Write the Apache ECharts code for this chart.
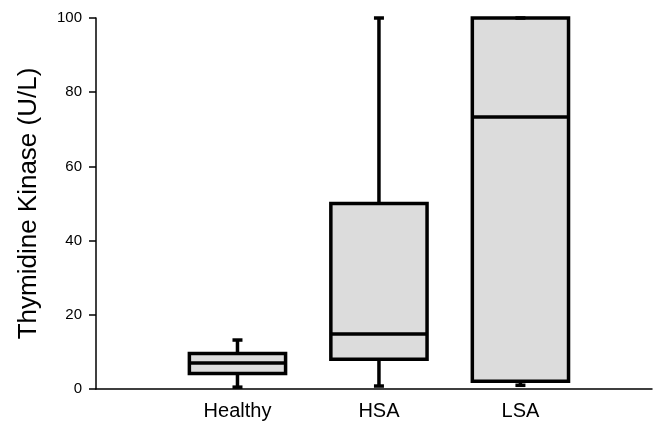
<!DOCTYPE html>
<html><head><meta charset="utf-8">
<script src="https://cdn.jsdelivr.net/npm/echarts@6/dist/echarts.min.js"></script>
<style>html,body{margin:0;padding:0;background:#fff}#c{width:655px;height:424px}</style>
</head><body><div id="c"></div>
<script>
const categories = ['Healthy', 'HSA', 'LSA'];
const whiskerLow = [0.5, 0.8, 1.0];
const q1 = [4.2, 8.0, 2.1];
const median = [7.0, 14.8, 73.3];
const q3 = [9.6, 50.0, 100];
const whiskerHigh = [13.2, 100, 100];
const yTicks = [0, 20, 40, 60, 80, 100];

const data = categories.map((c, i) => [i + 1, whiskerLow[i], q1[i], median[i], q3[i], whiskerHigh[i]]);
const FONT = '"Liberation Sans", Arial, sans-serif';
const LW = 3.5;

function renderItem(params, api) {
  const x = api.value(0);
  const halfW = 0.34;
  const pLo = api.coord([x, api.value(1)]);
  const pQ1 = api.coord([x, api.value(2)]);
  const pMed = api.coord([x, api.value(3)]);
  const pQ3 = api.coord([x, api.value(4)]);
  const pHi = api.coord([x, api.value(5)]);
  const left = api.coord([x - halfW, 0])[0];
  const right = api.coord([x + halfW, 0])[0];
  const cx = pLo[0];
  const capHalf = 5;
  const st = { stroke: '#000', lineWidth: LW };
  return {
    type: 'group',
    children: [
      { type: 'line', shape: { x1: cx, y1: pLo[1], x2: cx, y2: pQ1[1] }, style: st },
      { type: 'line', shape: { x1: cx, y1: pQ3[1], x2: cx, y2: pHi[1] }, style: st },
      { type: 'rect', shape: { x: left, y: pQ3[1], width: right - left, height: pQ1[1] - pQ3[1] },
        style: { fill: '#dcdcdc', stroke: '#000', lineWidth: LW } },
      { type: 'line', shape: { x1: left, y1: pMed[1], x2: right, y2: pMed[1] }, style: st },
      { type: 'line', shape: { x1: cx - capHalf, y1: pLo[1], x2: cx + capHalf, y2: pLo[1] }, style: st },
      { type: 'line', shape: { x1: cx - capHalf, y1: pHi[1], x2: cx + capHalf, y2: pHi[1] }, style: st }
    ]
  };
}

const chart = echarts.init(document.getElementById('c'), null, { renderer: 'canvas' });
chart.setOption({
  animation: false,
  backgroundColor: '#fff',
  grid: { left: 96, right: 1, top: 18, bottom: 35, containLabel: false },
  xAxis: {
    type: 'value', min: 0, max: 3.93, interval: 1,
    axisLine: { show: true, lineStyle: { color: '#000', width: 1.5 } },
    axisTick: { show: false },
    splitLine: { show: false },
    axisLabel: {
      color: '#000', fontSize: 20, fontFamily: FONT, margin: 12,
      formatter: v => (Number.isInteger(v) && v >= 1 && v <= categories.length) ? categories[v - 1] : ''
    }
  },
  yAxis: {
    type: 'value', min: yTicks[0], max: yTicks[yTicks.length - 1], interval: yTicks[1] - yTicks[0],
    name: 'Thymidine Kinase (U/L)', nameLocation: 'middle', nameGap: 54,
    nameTextStyle: { color: '#000', fontSize: 26, fontFamily: FONT },
    axisLine: { show: true, lineStyle: { color: '#000', width: 1.5 } },
    axisTick: { show: true, length: 7, lineStyle: { color: '#000', width: 1.5 } },
    splitLine: { show: false },
    axisLabel: { color: '#000', fontSize: 15, fontFamily: FONT, margin: 14, padding: [4, 0, 0, 0] }
  },
  series: [{
    type: 'custom', renderItem: renderItem, data: data, clip: false,
    encode: { x: 0, y: [1, 2, 3, 4, 5] }
  }]
});
</script></body></html>
